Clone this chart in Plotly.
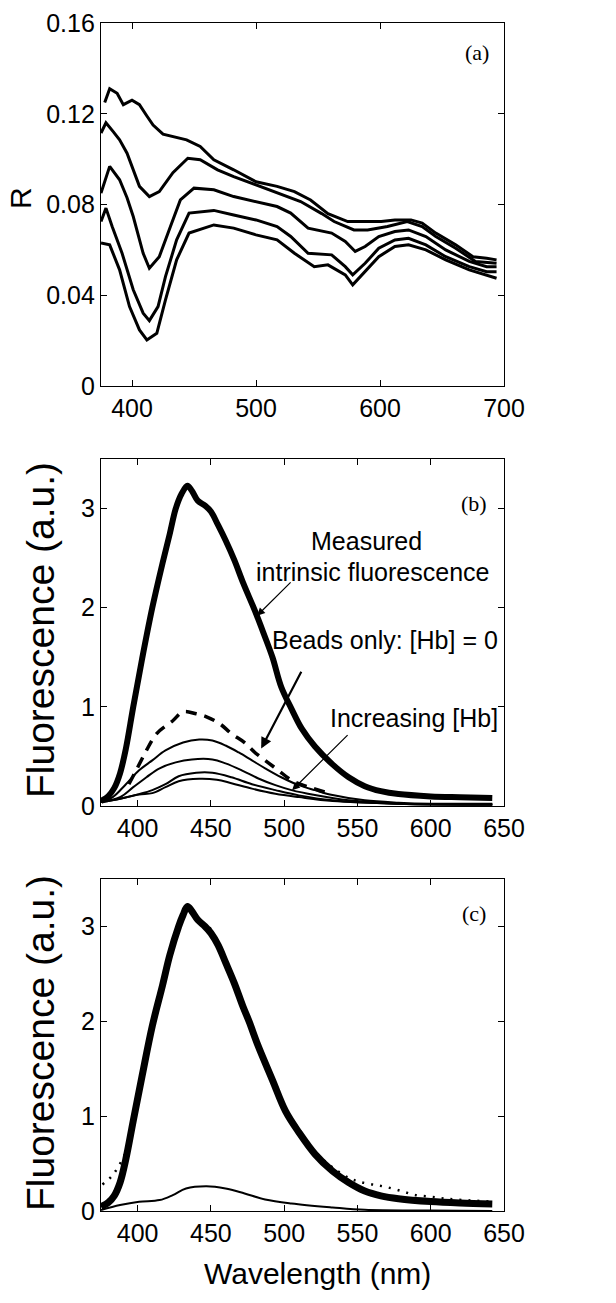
import plotly.graph_objects as go

W, H = 616, 1303

# ---------------- Panel (a): reflectance spectra ----------------
a1_x = [378, 382, 388, 393, 400, 406, 412, 417, 425, 433, 444, 455, 466, 482, 500, 517, 531, 544, 558, 574, 590, 601, 612, 625, 634, 645, 661, 675, 686, 694]
a1_y = [0.125, 0.131, 0.129, 0.124, 0.126, 0.124, 0.119, 0.115, 0.111, 0.110, 0.1085, 0.1056, 0.0997, 0.0953, 0.0900, 0.0880, 0.0857, 0.0820, 0.0760, 0.0725, 0.0725, 0.0725, 0.0732, 0.0732, 0.0718, 0.0674, 0.0622, 0.0570, 0.0563, 0.0556]
a2_x = [375, 379, 385, 390, 396, 401, 406, 414, 422, 433, 445, 455, 469, 482, 500, 517, 536, 553, 563, 579, 590, 606, 622, 634, 645, 661, 677, 694]
a2_y = [0.1115, 0.116, 0.112, 0.1085, 0.1026, 0.095, 0.088, 0.0835, 0.0857, 0.094, 0.1004, 0.0997, 0.0953, 0.0923, 0.0887, 0.0850, 0.0813, 0.0760, 0.0725, 0.0688, 0.0688, 0.0703, 0.0725, 0.0703, 0.0659, 0.0607, 0.0549, 0.0541]
a3_x = [375, 382, 390, 396, 401, 409, 414, 422, 431, 439, 450, 466, 482, 500, 517, 528, 542, 561, 572, 580, 588, 599, 612, 623, 637, 653, 672, 686, 694]
a3_y = [0.085, 0.0968, 0.0909, 0.083, 0.0747, 0.0585, 0.0519, 0.057, 0.0703, 0.082, 0.0872, 0.0865, 0.0835, 0.0813, 0.0791, 0.0762, 0.0696, 0.0674, 0.0637, 0.0593, 0.0615, 0.0659, 0.0681, 0.0688, 0.0659, 0.0600, 0.0549, 0.0526, 0.0526]
a4_x = [375, 379, 384, 392, 401, 409, 414, 421, 427, 436, 446, 466, 482, 500, 517, 528, 542, 561, 572, 578, 588, 599, 612, 623, 637, 653, 672, 686, 694]
a4_y = [0.0725, 0.0784, 0.0703, 0.0585, 0.0424, 0.0321, 0.0288, 0.035, 0.0482, 0.0644, 0.0762, 0.0774, 0.0754, 0.0732, 0.0703, 0.0659, 0.0585, 0.0578, 0.0526, 0.049, 0.0541, 0.0607, 0.0644, 0.0651, 0.0622, 0.057, 0.0526, 0.0504, 0.0504]
a5_x = [375, 382, 390, 398, 406, 412, 420, 427, 436, 446, 466, 482, 500, 517, 531, 547, 558, 572, 578, 588, 599, 612, 623, 637, 653, 672, 686, 694]
a5_y = [0.063, 0.0622, 0.0512, 0.035, 0.0247, 0.0203, 0.0232, 0.038, 0.0556, 0.0674, 0.071, 0.0696, 0.0666, 0.0644, 0.0585, 0.0526, 0.0534, 0.049, 0.0446, 0.0504, 0.057, 0.0615, 0.0622, 0.060, 0.0556, 0.0512, 0.049, 0.0475]
a_curves = [(a1_x, a1_y), (a2_x, a2_y), (a3_x, a3_y), (a4_x, a4_y), (a5_x, a5_y)]
a_ticks = [0, 0.04, 0.08, 0.12, 0.16]
a_ticktext = ["0", "0.04", "0.08", "0.12", "0.16"]
a_xticks = [400, 500, 600, 700]

# ---------------- Panel (b): fluorescence ----------------
b_meas_x = [375, 380, 384, 388, 392, 397, 403, 410, 417, 422, 426, 430, 434, 437, 441, 446, 450, 455, 460, 466, 472, 480, 486, 492, 498, 505, 512, 521, 533, 544, 555, 566, 578, 600, 620, 642]
b_meas_y = [0.05, 0.10, 0.18, 0.33, 0.58, 1.00, 1.48, 2.00, 2.45, 2.75, 3.00, 3.15, 3.23, 3.18, 3.08, 3.03, 2.97, 2.83, 2.68, 2.48, 2.25, 1.97, 1.74, 1.50, 1.20, 0.98, 0.78, 0.60, 0.42, 0.29, 0.20, 0.15, 0.12, 0.097, 0.088, 0.08]
b_beads_x = [394, 399, 406, 413, 424, 431, 440, 447, 456, 464, 473, 480, 487, 496, 505, 517, 528]
b_beads_y = [0.22, 0.36, 0.56, 0.73, 0.86, 0.95, 0.93, 0.90, 0.83, 0.73, 0.64, 0.54, 0.46, 0.36, 0.26, 0.19, 0.14]
b_hb1_x = [375, 383, 392, 401, 410, 419, 431, 442, 451, 460, 469, 478, 487, 498, 510, 521, 533, 555, 578, 600, 642]
b_hb1_y = [0.04, 0.09, 0.22, 0.36, 0.46, 0.56, 0.64, 0.67, 0.66, 0.61, 0.54, 0.46, 0.38, 0.29, 0.21, 0.16, 0.11, 0.057, 0.034, 0.023, 0.023]
b_hb2_x = [375, 388, 397, 406, 415, 426, 437, 451, 460, 471, 482, 494, 505, 521, 544, 578, 642]
b_hb2_y = [0.04, 0.09, 0.19, 0.29, 0.38, 0.44, 0.47, 0.47, 0.43, 0.36, 0.28, 0.21, 0.16, 0.11, 0.057, 0.023, 0.017]
b_hb3_x = [375, 388, 401, 410, 419, 428, 440, 451, 464, 478, 494, 510, 533, 578, 642]
b_hb3_y = [0.04, 0.074, 0.12, 0.16, 0.22, 0.30, 0.335, 0.335, 0.29, 0.22, 0.16, 0.107, 0.057, 0.023, 0.013]
b_hb4_x = [375, 388, 401, 410, 419, 428, 442, 454, 464, 478, 494, 510, 533, 578, 642]
b_hb4_y = [0.04, 0.074, 0.117, 0.13, 0.19, 0.25, 0.275, 0.265, 0.23, 0.175, 0.124, 0.09, 0.05, 0.023, 0.013]

# ---------------- Panel (c): recovered intrinsic fluorescence ----------------
c_intr_x = [375, 380, 384, 388, 392, 397, 403, 410, 417, 422, 428, 431, 434, 437, 441, 446, 450, 455, 460, 466, 472, 476, 482, 492, 501, 510, 521, 533, 544, 555, 566, 578, 600, 620, 642]
c_intr_y = [0.045, 0.09, 0.16, 0.30, 0.55, 0.95, 1.42, 1.95, 2.38, 2.70, 3.00, 3.12, 3.21, 3.16, 3.07, 3.00, 2.93, 2.80, 2.62, 2.40, 2.15, 2.00, 1.75, 1.38, 1.05, 0.83, 0.60, 0.42, 0.30, 0.21, 0.16, 0.13, 0.10, 0.085, 0.075]
c_fit_x = [376, 383, 391, 396, 399, 403, 410, 417, 424, 430, 434, 437, 442, 449, 455, 464, 473, 482, 492, 501, 510, 521, 533, 544, 551, 560, 569, 580, 589, 600, 610, 623, 640]
c_fit_y = [0.28, 0.38, 0.59, 0.81, 1.06, 1.45, 1.98, 2.40, 2.82, 3.08, 3.20, 3.16, 3.06, 2.99, 2.82, 2.45, 2.13, 1.77, 1.40, 1.08, 0.86, 0.63, 0.46, 0.35, 0.31, 0.28, 0.255, 0.21, 0.17, 0.15, 0.13, 0.115, 0.10]
c_beads_x = [375, 388, 401, 415, 424, 433, 447, 460, 473, 487, 505, 533, 555, 600, 642]
c_beads_y = [0.01, 0.063, 0.098, 0.115, 0.168, 0.238, 0.262, 0.238, 0.185, 0.122, 0.08, 0.038, 0.012, 0.004, 0.0]

f_ticks = [0, 1, 2, 3]
f_xticks = [400, 450, 500, 550, 600, 650]

SANS = "Liberation Sans, Arial, Helvetica"
SERIF = "Liberation Serif, Times New Roman, serif"

fig = go.Figure()

for cx, cy in a_curves:
    fig.add_trace(go.Scatter(x=cx, y=cy, xaxis="x", yaxis="y", mode="lines",
                             line=dict(color="black", width=3), showlegend=False))

for cx, cy in [(b_hb1_x, b_hb1_y), (b_hb2_x, b_hb2_y), (b_hb3_x, b_hb3_y), (b_hb4_x, b_hb4_y)]:
    fig.add_trace(go.Scatter(x=cx, y=cy, xaxis="x2", yaxis="y2", mode="lines",
                             line=dict(color="black", width=2, shape="spline"), showlegend=False))
fig.add_trace(go.Scatter(x=b_beads_x, y=b_beads_y, xaxis="x2", yaxis="y2", mode="lines",
                         line=dict(color="black", width=3.5, dash="11px,8px", shape="spline"), showlegend=False))
fig.add_trace(go.Scatter(x=b_meas_x, y=b_meas_y, xaxis="x2", yaxis="y2", mode="lines",
                         line=dict(color="black", width=6, shape="spline"), showlegend=False))

fig.add_trace(go.Scatter(x=c_beads_x, y=c_beads_y, xaxis="x3", yaxis="y3", mode="lines",
                         line=dict(color="black", width=2, shape="spline"), showlegend=False))
fig.add_trace(go.Scatter(x=c_intr_x, y=c_intr_y, xaxis="x3", yaxis="y3", mode="lines",
                         line=dict(color="black", width=7, shape="spline"), showlegend=False))
fig.add_trace(go.Scatter(x=c_fit_x, y=c_fit_y, xaxis="x3", yaxis="y3", mode="lines",
                         line=dict(color="black", width=2.5, dash="2px,7px", shape="spline"), showlegend=False))

xdom = [101 / W, 504 / W]
def ydom(top, bot):
    return [1 - bot / H, 1 - top / H]

axis_common = dict(showline=True, linecolor="black", linewidth=1.3, mirror="ticks",
                   ticks="inside", ticklen=6, tickwidth=1.2, tickcolor="black",
                   showgrid=False, zeroline=False, automargin=False,
                   tickfont=dict(family=SANS, size=25, color="black"))

fig.update_layout(
    template="none",
    width=W, height=H, autosize=False,
    margin=dict(l=0, r=0, t=0, b=0, pad=0, autoexpand=False),
    paper_bgcolor="white", plot_bgcolor="white",
    xaxis=dict(domain=xdom, anchor="y", range=[375, 700], tickvals=a_xticks, **axis_common),
    yaxis=dict(domain=ydom(23, 386), anchor="x", range=[0, 0.16], tickvals=a_ticks,
               ticktext=a_ticktext, **axis_common),
    xaxis2=dict(domain=xdom, anchor="y2", range=[375, 650], tickvals=f_xticks, **axis_common),
    yaxis2=dict(domain=ydom(459, 806), anchor="x2", range=[0, 3.5], tickvals=f_ticks, **axis_common),
    xaxis3=dict(domain=xdom, anchor="y3", range=[375, 650], tickvals=f_xticks, **axis_common),
    yaxis3=dict(domain=ydom(879, 1211), anchor="x3", range=[0, 3.5], tickvals=f_ticks, **axis_common),
)

def A(**kw):
    d = dict(showarrow=False, xanchor="center", yanchor="middle")
    d.update(kw)
    return d

ann = []
# axis titles
ann.append(A(text="R", xref="paper", yref="paper", x=20 / W, y=1 - 198 / H,
             textangle=-90, font=dict(family=SANS, size=30, color="black")))
for yc in (630, 1043):
    ann.append(A(text="Fluorescence (a.u.)", xref="paper", yref="paper", x=40 / W, y=1 - yc / H,
                 textangle=-90, font=dict(family=SANS, size=39, color="black")))
ann.append(A(text="Wavelength (nm)", xref="paper", yref="paper", x=317 / W, y=1 - 1273 / H,
             font=dict(family=SANS, size=30, color="black")))
# panel labels
ann.append(A(text="(a)", xref="x", yref="y", x=678, y=0.147, font=dict(family=SERIF, size=22, color="black")))
ann.append(A(text="(b)", xref="x2", yref="y2", x=629.5, y=3.05, font=dict(family=SERIF, size=22, color="black")))
ann.append(A(text="(c)", xref="x3", yref="y3", x=629.5, y=3.14, font=dict(family=SERIF, size=22, color="black")))
# panel (b) callouts
tfont = dict(family=SANS, size=25, color="black")
ann.append(A(text="Measured", xref="x2", yref="y2", x=556, y=2.67, font=tfont))
ann.append(A(text="intrinsic fluorescence", xref="x2", yref="y2", x=560, y=2.36, font=tfont))
ann.append(A(text="Beads only: [Hb] = 0", xref="x2", yref="y2", x=568.5, y=1.67, font=tfont))
ann.append(A(text="Increasing [Hb]", xref="x2", yref="y2", x=588.6, y=0.89, font=tfont))
# arrows
ann.append(dict(text="", xref="x2", yref="y2", axref="x2", ayref="y2", x=481.5, y=1.92, ax=505.4, ay=2.27,
                showarrow=True, arrowhead=2, arrowsize=1.3, arrowwidth=1.2, arrowcolor="black"))
ann.append(dict(text="", xref="x2", yref="y2", axref="x2", ayref="y2", x=484.3, y=0.58, ax=512.2, ay=1.37,
                showarrow=True, arrowhead=2, arrowsize=1.0, arrowwidth=2.2, arrowcolor="black"))
ann.append(dict(text="", xref="x2", yref="y2", axref="x2", ayref="y2", x=505.4, y=0.16, ax=544.3, ay=0.73,
                showarrow=True, arrowhead=2, arrowsize=1.3, arrowwidth=1.2, arrowcolor="black"))
fig.update_layout(annotations=ann)

fig.write_html("out.html", config={"displayModeBar": False},
               post_script="document.body.style.margin='0';")
